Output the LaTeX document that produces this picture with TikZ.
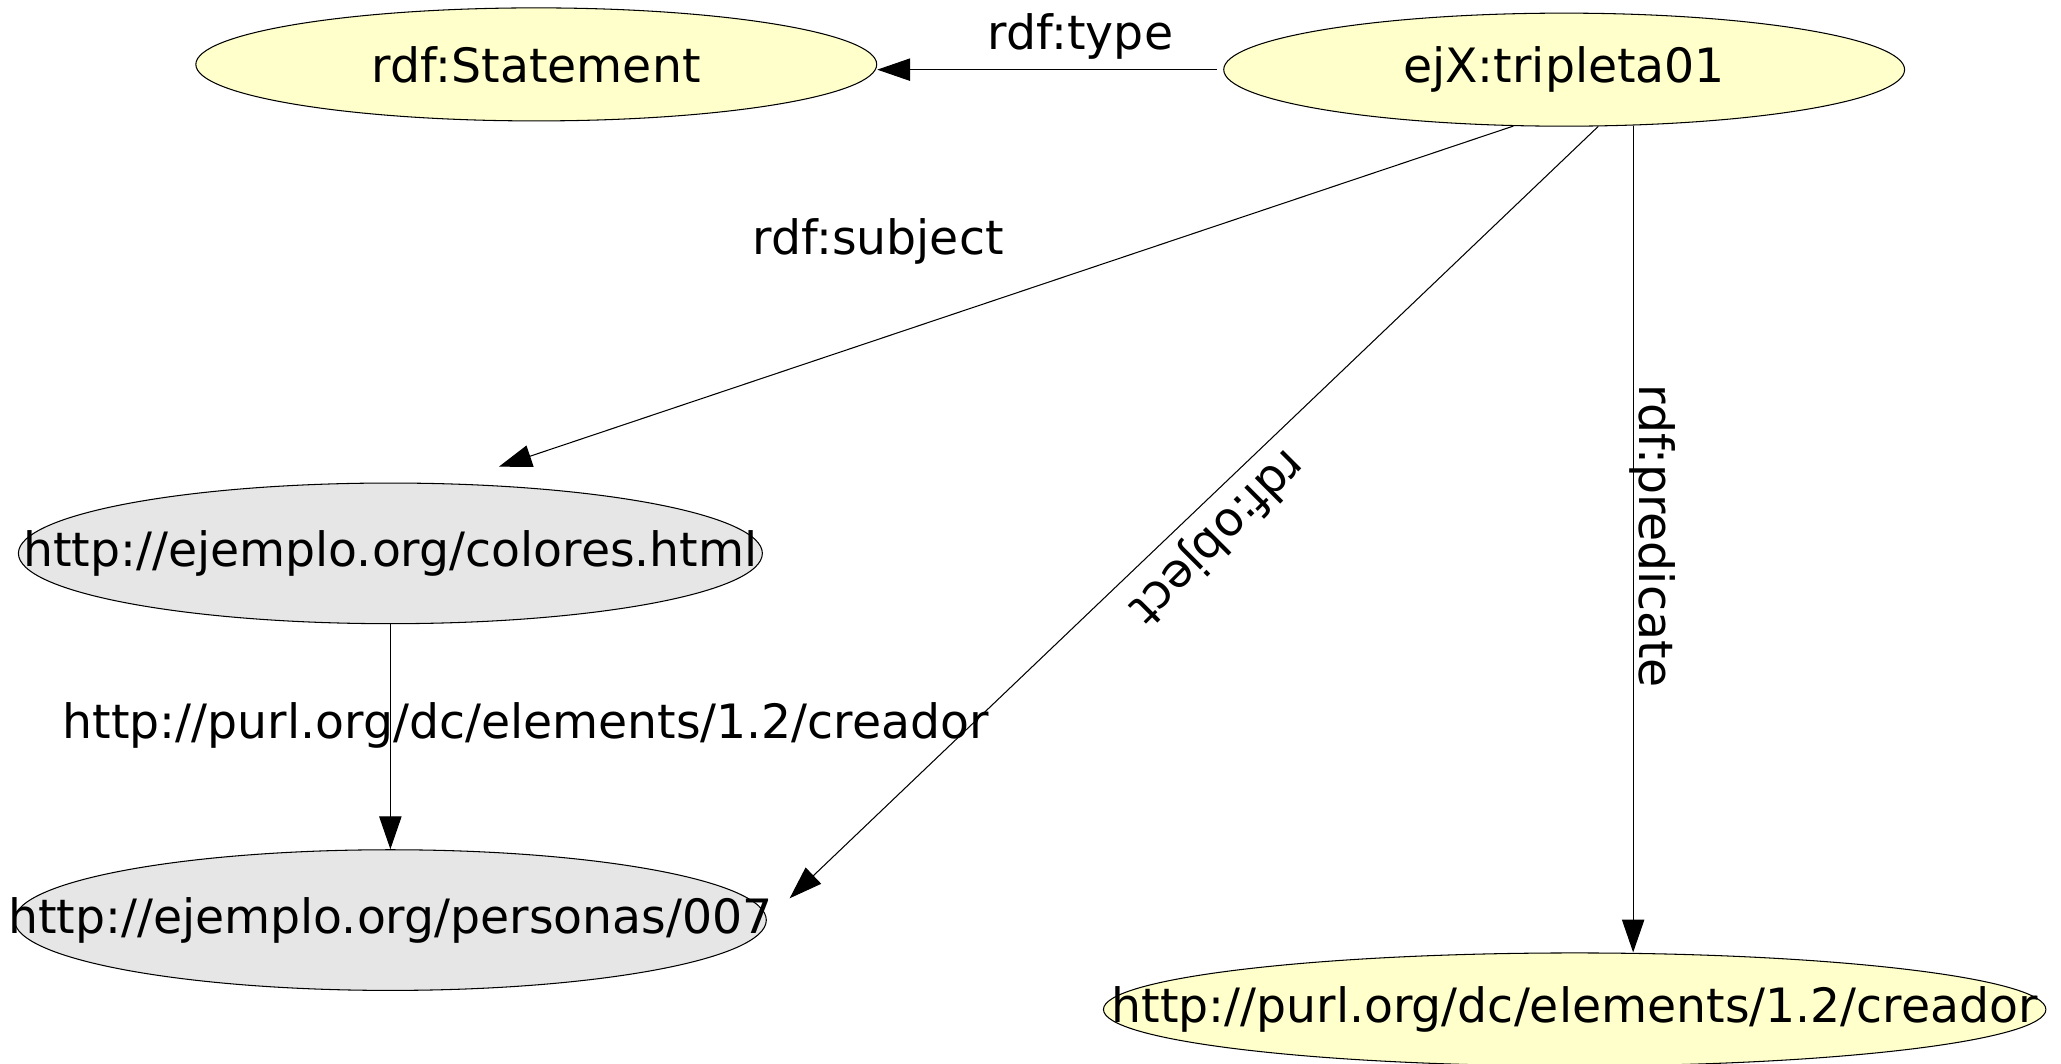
\documentclass[tikz,border=0pt]{standalone}
\usepackage{fontspec}
\setmainfont{DejaVu Sans}
\usepackage{xcolor}
\usetikzlibrary{shapes.geometric,arrows.meta}
\definecolor{resyellow}{HTML}{FFFFCC}
\definecolor{resgray}{HTML}{E6E6E6}

\begin{document}
\begin{tikzpicture}[x=0.5pt,y=0.5pt,
  font=\fontsize{18pt}{22pt}\selectfont,
  res/.style={ellipse,draw,line width=0.4pt,inner sep=0pt,minimum height=43pt},
  rel/.style={draw,line width=0.4pt,-{Triangle[length=12.5pt,width=8.5pt]}}]
\useasboundingbox (0,0) rectangle (1568,809);
\node[res,fill=resyellow,minimum width=259pt] (stmt) at (408,760) {rdf:Statement};
\node[res,fill=resyellow,minimum width=259pt] (trip) at (1190,756) {ejX:tripleta01};
\node[res,fill=resgray,minimum width=283pt,minimum height=53.5pt] (colores) at (297,388) {};
\node (colorestxt) at (colores) {http://ejemplo.org/colores.html};
\node[res,fill=resgray,minimum width=286pt,minimum height=53.5pt] (personas) at (297,109) {};
\node (personastxt) at (personas) {http://ejemplo.org/personas/007};
\node[res,fill=resyellow,minimum width=358.5pt] (creador) at (1198,41) {};
\node (creadortxt) at (creador) {http://purl.org/dc/elements/1.2/creador};
\draw[rel,shorten <=2.5pt] (trip.west) -- (stmt.east |- trip.west);
\draw[rel,shorten >=20pt] (trip.228) -- (colores.50);
\draw[rel,shorten >=12pt] (trip.-59) -- (personas.east);
\draw[rel] (trip.-39) -- (trip.-39 |- creador.north);
\draw[rel] (colores.south) -- (personas.north);
\node (typelbl) at (822,781) {rdf:type};
\node (subjlbl) at (668,625) {rdf:subject};
\node[rotate=225] (objlbl) at (925,401) {rdf:object};
\node[rotate=-90] (predlbl) at (1257,401) {rdf:predicate};
\node (dclbl) at (400,257) {http://purl.org/dc/elements/1.2/creador};
\end{tikzpicture}
\end{document}
